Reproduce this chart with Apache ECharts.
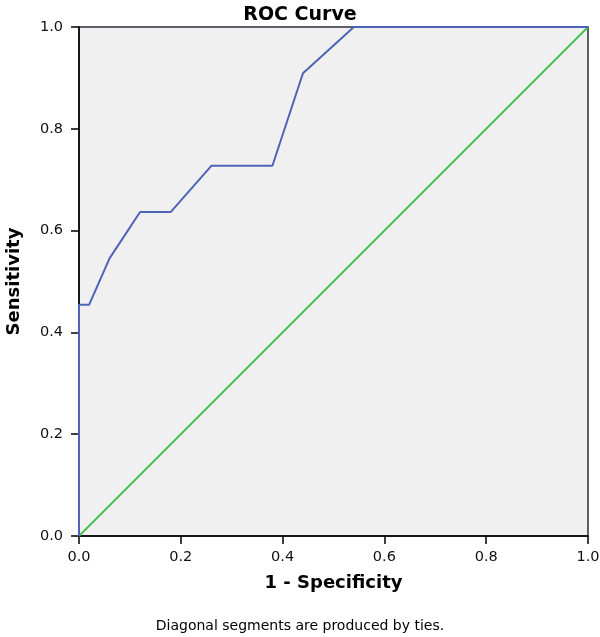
<!DOCTYPE html>
<html>
<head>
<meta charset="utf-8">
<script src="https://cdn.jsdelivr.net/npm/echarts@6/dist/echarts.min.js"></script>
<style>
  html, body { margin: 0; padding: 0; background: #fff; }
  #chart { width: 600px; height: 637px; }
</style>
</head>
<body>
<div id="chart"></div>
<script>
// ROC points: 1 - specificity, sensitivity
let fpr = [0, 0, 0.02, 0.06, 0.12, 0.18, 0.26, 0.38, 0.44, 0.54, 1.0]
let tpr = [0, 0.4545, 0.4545, 0.5455, 0.6364, 0.6364, 0.7273, 0.7273, 0.9091, 1.0, 1.0]
let refLine = [[0, 0], [1, 1]]

let font = 'DejaVu Sans'

let chart = echarts.init(document.getElementById('chart'))

let axisCommon = {
  type: 'value',
  min: 0,
  max: 1,
  interval: 0.2,
  nameLocation: 'middle',
  nameTextStyle: { fontFamily: font, fontWeight: 'bold', fontSize: 18, color: '#000' },
  axisLine: { show: true, onZero: false, lineStyle: { color: '#000', width: 1.5 } },
  axisTick: { show: true, inside: false, length: 8, lineStyle: { color: '#000', width: 1.5 } },
  axisLabel: {
    fontFamily: font,
    fontSize: 14.5,
    color: '#111',
    formatter: v => v.toFixed(1)
  },
  splitLine: { show: false }
}

let option = {
  animation: false,
  title: {
    text: 'ROC Curve',
    left: 'center',
    top: 1,
    textStyle: { fontFamily: font, fontWeight: 'bold', fontSize: 19, color: '#000' }
  },
  grid: {
    left: 79,
    top: 27,
    width: 509,
    height: 509,
    outerBoundsMode: 'none',
    containLabel: false,
    show: true,
    backgroundColor: '#f0f0f0',
    borderColor: '#2a2f3a',
    borderWidth: 1.5
  },
  xAxis: Object.assign({}, axisCommon, {
    name: '1 - Specificity',
    nameGap: 38,
    axisLabel: Object.assign({}, axisCommon.axisLabel, { margin: 14 })
  }),
  yAxis: Object.assign({}, axisCommon, {
    name: 'Sensitivity',
    nameGap: 56,
    axisLabel: Object.assign({}, axisCommon.axisLabel, { margin: 16 })
  }),
  series: [
    {
      type: 'line',
      data: refLine,
      showSymbol: false,
      lineStyle: { color: '#3fbf4f', width: 1.8 },
      z: 2
    },
    {
      type: 'line',
      data: fpr.map((x, i) => [x, tpr[i]]),
      showSymbol: false,
      lineStyle: { color: '#4d65b6', width: 2 },
      z: 3
    }
  ],
  graphic: [
    {
      type: 'text',
      left: 'center',
      top: 619,
      style: {
        text: 'Diagonal segments are produced by ties.',
        font: '14px "DejaVu Sans"',
        fill: '#000'
      }
    }
  ]
}

chart.setOption(option)
</script>
</body>
</html>
